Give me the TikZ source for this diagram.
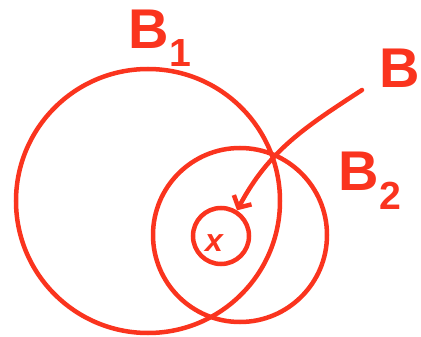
\documentclass[tikz,border=0pt]{standalone}
\usepackage{fontspec}
\setmainfont{Liberation Sans}
\usetikzlibrary{arrows.meta}
\definecolor{pen}{RGB}{250,52,30}
\begin{document}
\begin{tikzpicture}[x=1pt,y=-1pt,line width=4.5pt,
  ball/.style={draw=pen,circle,inner sep=0pt},
  lab/.style={text=pen,font=\fontsize{56}{56}\selectfont\bfseries}]
\useasboundingbox (0,0) rectangle (421,337);
% balls
\node[ball,minimum size=264pt] (b1) at (148,201) {};
\node[ball,minimum size=174pt] (b2) at (240,235) {};
\node[ball,minimum size=56pt] (xb) at (221,236) {};
% labels
\node[lab] (l1) at (160,38) {B\textsubscript{1}};
\node[lab] (l2) at (370,181) {B\textsubscript{2}};
\node[lab] (lb) at (400,68) {B};
\node[text=pen,font=\fontsize{32}{32}\selectfont\bfseries\itshape] (lx) at (214,243) {x};
% arrow
\coordinate (src) at (362,90);
\draw[pen,line cap=round,-{Straight Barb[length=9pt,width=20pt]}] (src) to[out=213,in=62] (xb.58);
\end{tikzpicture}
\end{document}
